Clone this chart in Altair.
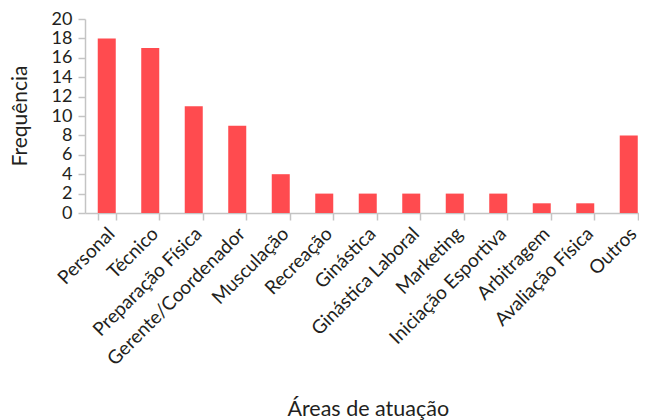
import altair as alt
import pandas as pd

categories = ["Personal", "Técnico", "Preparação Física", "Gerente/Coordenador",
              "Musculação", "Recreação", "Ginástica", "Ginástica Laboral",
              "Marketing", "Iniciação Esportiva", "Arbitragem", "Avaliação Física",
              "Outros"]
values = [18, 17, 11, 9, 4, 2, 2, 2, 2, 2, 1, 1, 8]
y_ticks = list(range(0, 21, 2))
y_title = "Frequência"
x_title = "Áreas de atuação"

df = pd.DataFrame({"area": categories, "freq": values})

FONT = "Lato"
TXT = "#231f20"
AX = "#c4c4c4"

bars = alt.Chart(df).mark_bar(color="#FF4B4F").encode(
    x=alt.X("area:N", sort=categories,
            scale=alt.Scale(range=[0, 565.5], paddingInner=0.586, paddingOuter=0.293),
            axis=alt.Axis(title=x_title, labelAngle=-45,
                          labelAlign="right", labelBaseline="top",
                          labelFontSize=19, titleFontSize=21.5,
                          labelLimit=400, labelOverlap=False,
                          tickBand="extent", tickSize=7, labelPadding=4,
                          labelOffset=-2,
                          titleY=185, titleBaseline="top")),
    y=alt.Y("freq:Q", scale=alt.Scale(domain=[0, 20], nice=False),
            axis=alt.Axis(title=None, values=y_ticks, grid=False,
                          labelFontSize=18,
                          labelOverlap=False, labelLimit=200,
                          tickSize=7, labelPadding=6)),
)

ytitle = alt.Chart(pd.DataFrame({"t": [y_title]})).mark_text(
    angle=270, fontSize=21, font=FONT, color=TXT,
    align="center", baseline="alphabetic",
).encode(text="t:N", x=alt.value(-58), y=alt.value(97))

chart = alt.layer(bars, ytitle).properties(
    width=554, height=194,
    autosize=alt.AutoSizeParams(type="none"),
    padding={"left": 77, "top": 11, "right": 0, "bottom": 215},
).configure_view(stroke=None).configure_axis(
    labelFont=FONT, titleFont=FONT, labelColor=TXT, titleColor=TXT,
    titleFontWeight="normal", domainColor=AX, tickColor=AX,
    domainWidth=1.5, tickWidth=1.5,
)

chart.save("out.html", embed_options={"renderer": "svg", "actions": False})
